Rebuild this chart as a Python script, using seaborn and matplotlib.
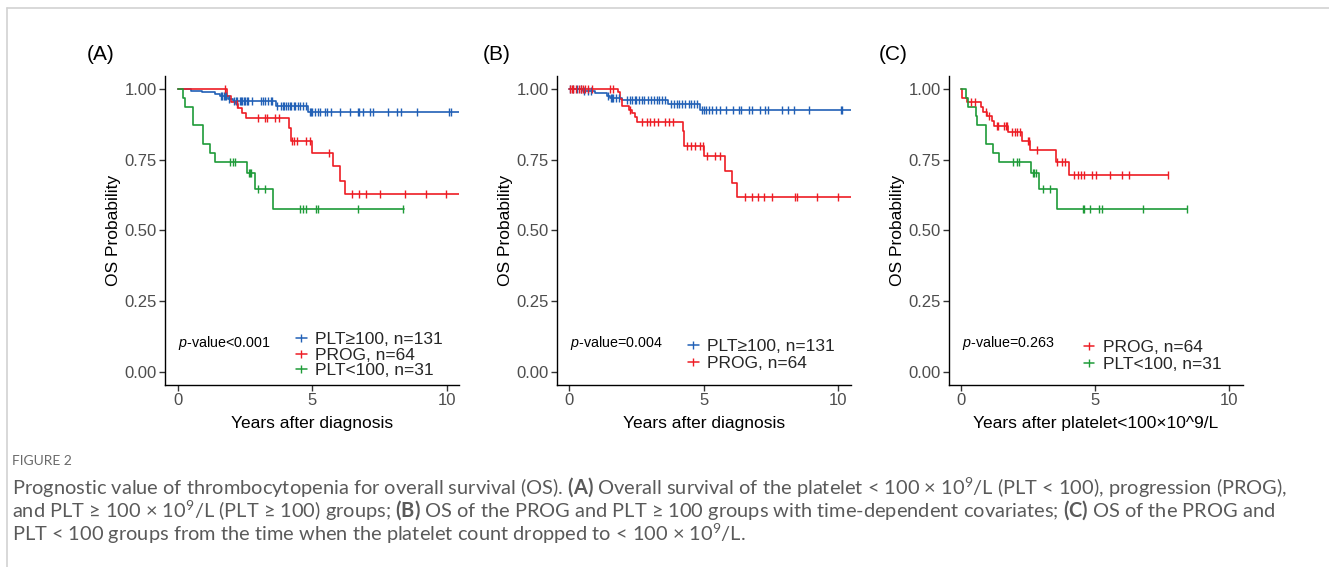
import numpy as np
import pandas as pd
import matplotlib
matplotlib.use("Agg")
import matplotlib.pyplot as plt
import seaborn as sns
from matplotlib.lines import Line2D

# ---------------- data ----------------
# Panel A
a_blue_t = [0, 0.47, 0.88, 1.38, 1.55, 1.85, 2.05, 3.64, 4.85, 10.46]
a_blue_s = [1.0, 0.992, 0.987, 0.981, 0.973, 0.964, 0.956, 0.940, 0.917, 0.917]
a_blue_c = [1.6, 1.65, 1.7, 1.75, 1.8, 1.9, 2.1, 2.15, 2.2, 2.3, 2.35, 2.4, 2.45, 2.5, 2.55,
            2.6, 2.75, 3.1, 3.15, 3.25, 3.35, 3.45, 3.5, 3.7, 3.85, 3.9, 3.95, 4.0, 4.1, 4.15,
            4.2, 4.3, 4.35, 4.45, 4.55, 4.65, 4.75, 4.9, 4.95, 5.0, 5.1, 5.2, 5.3, 5.45,
            5.55, 5.7, 6.02, 6.39, 6.7, 6.75, 6.89, 7.14, 7.26, 7.82, 8.13, 8.31, 8.87,
            10.08, 10.14]
a_red_t = [0, 1.83, 1.96, 2.16, 2.24, 2.37, 2.53, 4.14, 4.2, 5.0, 5.75, 6.02, 6.21, 10.46]
a_red_s = [1.0, 0.973, 0.954, 0.946, 0.932, 0.914, 0.896, 0.86, 0.815, 0.773, 0.727, 0.676, 0.629, 0.629]
a_red_c = [1.75, 2.2, 2.99, 3.23, 3.30, 3.60, 3.77, 4.25, 4.33, 4.42, 4.78, 4.91, 5.62,
           6.49, 6.74, 6.99, 7.51, 8.44, 9.22, 9.96]
a_grn_t = [0, 0.2, 0.26, 0.55, 0.57, 0.92, 1.19, 1.38, 2.58, 2.86, 3.52, 8.41]
a_grn_s = [1.0, 0.966, 0.934, 0.903, 0.872, 0.806, 0.774, 0.742, 0.703, 0.647, 0.576, 0.576]
a_grn_c = [1.93, 2.06, 2.12, 2.63, 2.68, 2.72, 2.99, 3.24, 4.54, 4.64, 4.76, 5.13, 5.19, 6.70, 8.38]

# Panel B
b_blue_t = [0, 0.51, 0.96, 1.4, 1.52, 1.96, 3.69, 4.87, 10.47]
b_blue_s = [1.0, 0.993, 0.985, 0.975, 0.966, 0.959, 0.946, 0.925, 0.925]
b_blue_c = [0.05, 0.15, 0.3, 0.45, 0.55, 0.7, 0.8, 1.45, 1.55, 1.6, 1.65, 1.75, 1.85,
            2.14, 2.25, 2.35, 2.45, 2.5, 2.6, 2.7, 2.8, 2.95, 3.05, 3.15, 3.25, 3.35,
            3.45, 3.55, 3.8, 3.9, 4.0, 4.1, 4.2, 4.3, 4.45, 4.55, 4.65, 4.75,
            4.95, 5.0, 5.1, 5.2, 5.3, 5.45, 5.6, 5.85, 6.1, 6.3, 6.4, 6.7, 6.8, 7.1,
            7.3, 7.4, 7.9, 8.15, 8.35, 8.9, 10.1, 10.15]
b_red_t = [0, 1.80, 1.90, 1.96, 2.21, 2.33, 2.45, 2.54, 4.23, 4.28, 5.02, 5.8, 6.05, 6.23, 10.47]
b_red_s = [1.0, 0.987, 0.963, 0.940, 0.926, 0.914, 0.899, 0.881, 0.852, 0.799, 0.762, 0.711, 0.667, 0.617, 0.617]
b_red_c = [0.05, 0.1, 0.15, 0.25, 0.35, 0.45, 0.5, 0.6, 0.7, 0.85, 1.52, 1.62, 2.25,
           2.7, 2.9, 3.0, 3.15, 3.32, 3.57, 3.7, 3.88, 4.37, 4.55, 4.68, 4.86, 4.96,
           5.11, 5.42, 5.61, 6.54, 6.79, 7.04, 7.23, 7.54, 8.4, 8.46, 9.23, 9.98]

# Panel C
c_red_t = [0, 0.03, 0.24, 0.73, 0.83, 0.98, 1.14, 1.23, 1.77, 2.26, 2.57, 3.55, 4.01, 7.74]
c_red_s = [1.0, 0.969, 0.954, 0.934, 0.919, 0.903, 0.887, 0.867, 0.846, 0.817, 0.785, 0.743, 0.696, 0.696]
c_red_c = [0.36, 0.52, 0.94, 1.06, 1.33, 1.39, 1.6, 1.68, 1.73, 1.89, 2.02, 2.08, 2.2,
           2.48, 2.55, 2.85, 3.57, 3.76, 3.88, 4.22, 4.38, 4.47, 4.57, 4.88, 5.04,
           5.56, 5.99, 6.28, 7.74]
c_grn_t = [0, 0.2, 0.25, 0.56, 0.58, 0.93, 1.18, 1.43, 2.6, 2.89, 3.57, 8.42]
c_grn_s = [1.0, 0.968, 0.935, 0.903, 0.872, 0.805, 0.774, 0.742, 0.703, 0.647, 0.576, 0.576]
c_grn_c = [1.93, 2.08, 2.16, 2.68, 2.73, 2.78, 3.05, 3.3, 4.54, 4.59, 4.81, 5.16, 5.25, 6.78, 8.42]

labels_a = ["PLT\u2265100, n=131", "PROG, n=64", "PLT<100, n=31"]
labels_b = ["PLT\u2265100, n=131", "PROG, n=64"]
labels_c = ["PROG, n=64", "PLT<100, n=31"]
pvals = ["<0.001", "=0.004", "=0.263"]
xlabels = ["Years after diagnosis", "Years after diagnosis", "Years after platelet<100\u00d710^9/L"]
panel_tags = ["(A)", "(B)", "(C)"]
xticks = [0, 5, 10]
yticks = [0.0, 0.25, 0.5, 0.75, 1.0]
ytick_labels = ["0.00", "0.25", "0.50", "0.75", "1.00"]

BLUE = "#2160B6"
RED = "#EE1C24"
GREEN = "#1E9B38"

# ---------------- style ----------------
sns.set_style("ticks")
plt.rcParams["font.family"] = ["Liberation Sans", "DejaVu Sans"]
plt.rcParams["mathtext.fontset"] = "custom"
plt.rcParams["mathtext.rm"] = "Lato"
plt.rcParams["mathtext.it"] = "Liberation Sans:italic"
plt.rcParams["mathtext.bf"] = "Lato:bold"

W, H = 1329, 567
fig = plt.figure(figsize=(W / 100, H / 100), dpi=100)
fig.patch.set_facecolor("white")


def px_axes(x0, x1, ytop, ybot):
    return fig.add_axes([x0 / W, 1 - ybot / H, (x1 - x0) / W, (ybot - ytop) / H])


def draw_curve(ax, t, s, c, color):
    df = pd.DataFrame({"t": t, "s": s})
    sns.lineplot(data=df, x="t", y="s", drawstyle="steps-post", estimator=None,
                 sort=False, color=color, lw=1.2, ax=ax)
    t_arr = np.asarray(t)
    s_arr = np.asarray(s)
    idx = np.searchsorted(t_arr, np.asarray(c), side="right") - 1
    cdf = pd.DataFrame({"t": c, "s": s_arr[idx]})
    sns.scatterplot(data=cdf, x="t", y="s", marker="|", s=40, color=color,
                    linewidth=1.0, ax=ax, zorder=3)


panels = [
    dict(x0=165, x1=459, xmin=-0.48, xmax=10.45,
         curves=[(a_blue_t, a_blue_s, a_blue_c, BLUE), (a_red_t, a_red_s, a_red_c, RED),
                 (a_grn_t, a_grn_s, a_grn_c, GREEN)],
         labels=labels_a, colors=[BLUE, RED, GREEN], leg=(0.446, 0.171), lsp=0.01),
    dict(x0=557, x1=851, xmin=-0.45, xmax=10.48,
         curves=[(b_blue_t, b_blue_s, b_blue_c, BLUE), (b_red_t, b_red_s, b_red_c, RED)],
         labels=labels_b, colors=[BLUE, RED], leg=(0.446, 0.150), lsp=0.11),
    dict(x0=949, x1=1243, xmin=-0.45, xmax=10.52,
         curves=[(c_red_t, c_red_s, c_red_c, RED), (c_grn_t, c_grn_s, c_grn_c, GREEN)],
         labels=labels_c, colors=[RED, GREEN], leg=(0.459, 0.147), lsp=0.11),
]

tag_x = [101, 497, 893]

for i, p in enumerate(panels):
    ax = px_axes(p["x0"], p["x1"], 76, 385)
    for (t, s, c, col) in p["curves"]:
        draw_curve(ax, t, s, c, col)
    ax.set_xlim(p["xmin"], p["xmax"])
    ax.set_ylim(-0.045, 1.045)
    ax.set_xticks(xticks)
    ax.set_xticklabels([str(v) for v in xticks])
    ax.set_yticks(yticks)
    ax.set_yticklabels(ytick_labels)
    ax.tick_params(axis="both", length=4, width=1, color="#333333",
                   labelsize=12, labelcolor="#4D4D4D", pad=2)
    for side in ["top", "right"]:
        ax.spines[side].set_visible(False)
    for side in ["left", "bottom"]:
        ax.spines[side].set_color("black")
        ax.spines[side].set_linewidth(1.0)
    ax.set_xlabel(xlabels[i], fontsize=12.5, color="black")
    ax.set_ylabel("OS Probability", fontsize=12.5, color="black")
    ax.xaxis.set_label_coords(0.5, -0.100)
    ax.yaxis.set_label_coords(-0.150, 0.5)
    ax.set_facecolor("white")
    ax.grid(False)

    ax.text(0.044, 0.136, r"$\mathit{p}$-value" + pvals[i], transform=ax.transAxes,
            fontsize=10.3, va="center", ha="left", color="black")

    handles = [Line2D([0], [0], color=col, lw=1.1, marker="|", markersize=6, mew=1.0)
               for col in p["colors"]]
    ax.legend(handles, p["labels"], loc="upper left", bbox_to_anchor=p["leg"],
              frameon=False, fontsize=12.5, handlelength=0.6, handletextpad=0.5,
              borderpad=0, borderaxespad=0, labelspacing=p["lsp"])

    fig.text(tag_x[i] / W, 1 - 54 / H, panel_tags[i], fontsize=15, ha="center",
             va="center", color="black")

# ---------------- frame & caption ----------------
fig.add_artist(Line2D([7 / W, 1.0], [1 - 8 / H, 1 - 8 / H], transform=fig.transFigure,
                      color="#d2d2d2", lw=1.2))
fig.add_artist(Line2D([7 / W, 7 / W], [1 - 8 / H, 0.0], transform=fig.transFigure,
                      color="#d2d2d2", lw=1.2))

cap_font = ["Lato", "DejaVu Sans"]
fig.text(12 / W, 1 - 461 / H, "FIGURE 2", fontsize=10, color="#6a6a6a",
         va="center", ha="left", family=cap_font)
cap_lines = [
    "Prognostic value of thrombocytopenia for overall survival (OS). $\\mathbf{(A)}$ Overall "
    "survival of the platelet < 100 \u00d7 $10^{9}$/L (PLT < 100), progression (PROG),",
    "and PLT \u2265 100 \u00d7 $10^{9}$/L (PLT \u2265 100) groups; $\\mathbf{(B)}$ OS of the PROG and "
    "PLT \u2265 100 groups with time-dependent covariates; $\\mathbf{(C)}$ OS of the PROG and",
    "PLT < 100 groups from the time when the platelet count dropped to < 100 \u00d7 $10^{9}$/L.",
]
for k, line in enumerate(cap_lines):
    fig.text(12 / W, 1 - (488 + 22.8 * k) / H, line, fontsize=14.4, color="#5a5a5a",
             va="center", ha="left", family=cap_font)

fig.savefig("out.png", dpi=100, facecolor="white")
